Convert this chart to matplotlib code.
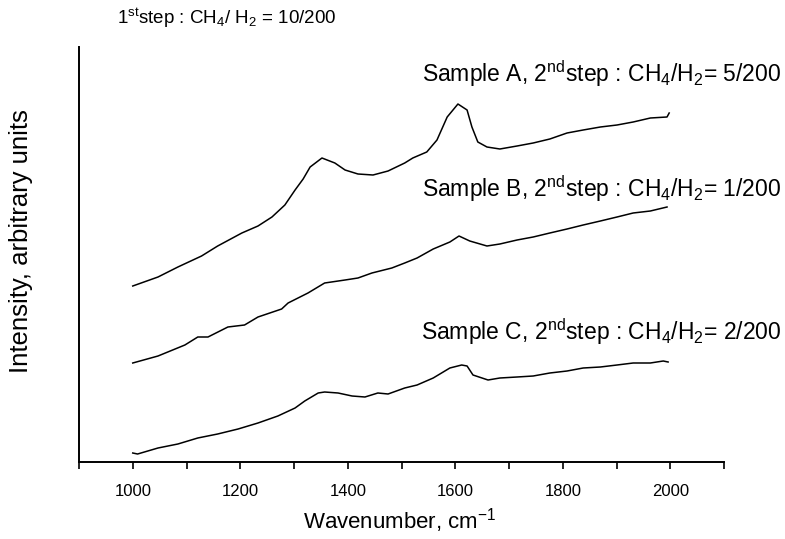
import matplotlib
matplotlib.use("Agg")
import matplotlib.pyplot as plt
from matplotlib.ticker import MultipleLocator

plt.rcParams['font.family'] = ['Liberation Sans', 'DejaVu Sans']
plt.rcParams['mathtext.fontset'] = 'custom'
plt.rcParams['mathtext.rm'] = 'Liberation Sans'
plt.rcParams['mathtext.it'] = 'Liberation Sans:italic'
plt.rcParams['mathtext.bf'] = 'Liberation Sans:bold'

# Sample A
wn_a = [1000, 1047, 1084, 1128, 1158, 1203, 1233, 1259, 1283, 1302, 1317, 1330, 1352, 1376,
        1395, 1419, 1447, 1475, 1506, 1521, 1547, 1566, 1585, 1605, 1622, 1631, 1642, 1659,
        1683, 1715, 1745, 1776, 1808, 1838, 1870, 1901, 1931, 1963, 1994, 1998]
int_a = [176, 185, 195, 206, 216, 229, 236, 245, 257, 272, 283, 295, 304, 299,
         292, 288, 287, 291, 299, 304, 310, 322, 345, 358, 352, 335, 320, 315,
         313, 316, 319, 323, 329, 332, 335, 337, 340, 344, 345, 349]

# Sample B
wn_b = [1000, 1047, 1097, 1121, 1140, 1177, 1208, 1233, 1277, 1289, 1326, 1357, 1395, 1419,
        1445, 1482, 1506, 1529, 1559, 1590, 1607, 1627, 1659, 1683, 1715, 1745, 1776, 1808,
        1838, 1870, 1901, 1931, 1963, 1994]
int_b = [99, 106, 117, 125, 125, 135, 137, 145, 153, 159, 169, 179, 182, 184,
         189, 194, 199, 204, 213, 220, 226, 221, 216, 218, 222, 225, 229, 233,
         237, 241, 245, 249, 251, 255]

# Sample C
wn_c = [1000, 1009, 1047, 1084, 1121, 1158, 1196, 1233, 1270, 1302, 1320, 1345, 1357, 1382,
        1408, 1432, 1456, 1475, 1506, 1529, 1559, 1590, 1612, 1622, 1633, 1661, 1683, 1715,
        1745, 1776, 1808, 1838, 1870, 1901, 1931, 1963, 1987, 1996]
int_c = [9, 8, 14, 18, 24, 28, 33, 39, 46, 54, 61, 69, 70, 69,
         66, 65, 69, 68, 74, 77, 84, 94, 97, 96, 87, 82, 84, 85,
         86, 89, 91, 94, 95, 97, 99, 99, 101, 100]

xtick_vals = [1000, 1200, 1400, 1600, 1800, 2000]

W, H = 785, 539
fig = plt.figure(figsize=(W / 100, H / 100), dpi=100)
ax = fig.add_axes([79 / W, 1 - 462 / H, (724 - 79) / W, (462 - 47) / H])

for wn, inten in [(wn_a, int_a), (wn_b, int_b), (wn_c, int_c)]:
    ax.plot(wn, inten, color='black', lw=1.1)

ax.set_xlim(900, 2100)
ax.set_ylim(0, 415)
ax.set_xticks(xtick_vals)
ax.xaxis.set_minor_locator(MultipleLocator(100))
ax.tick_params(axis='x', which='both', direction='out', length=5, width=1.2,
               labelsize=12, pad=11)
ax.set_yticks([])
for s in ['top', 'right']:
    ax.spines[s].set_visible(False)
for s in ['left', 'bottom']:
    ax.spines[s].set_linewidth(1.4)

def fy(ypx):
    return 1 - ypx / H

fig.text(400 / W, fy(521), r'Wavenumber, cm$^{-1}$', ha='center', va='center', fontsize=16)
fig.text(21 / W, fy(241), 'Intensity, arbitrary units', ha='center', va='center',
         rotation=90, fontsize=18.5)
fig.text(117 / W, fy(18), r'1$^{\rm st}$step : CH$_4$/ H$_2$ = 10/200', ha='left',
         va='center', fontsize=13.5)
fig.text(781 / W, fy(74), r'Sample A, 2$^{\rm nd}$step : CH$_4$/H$_2$= 5/200', ha='right',
         va='center', fontsize=16.5)
fig.text(781 / W, fy(189), r'Sample B, 2$^{\rm nd}$step : CH$_4$/H$_2$= 1/200', ha='right',
         va='center', fontsize=16.5)
fig.text(781 / W, fy(332), r'Sample C, 2$^{\rm nd}$step : CH$_4$/H$_2$= 2/200', ha='right',
         va='center', fontsize=16.5)

fig.savefig('out.png', dpi=100)
